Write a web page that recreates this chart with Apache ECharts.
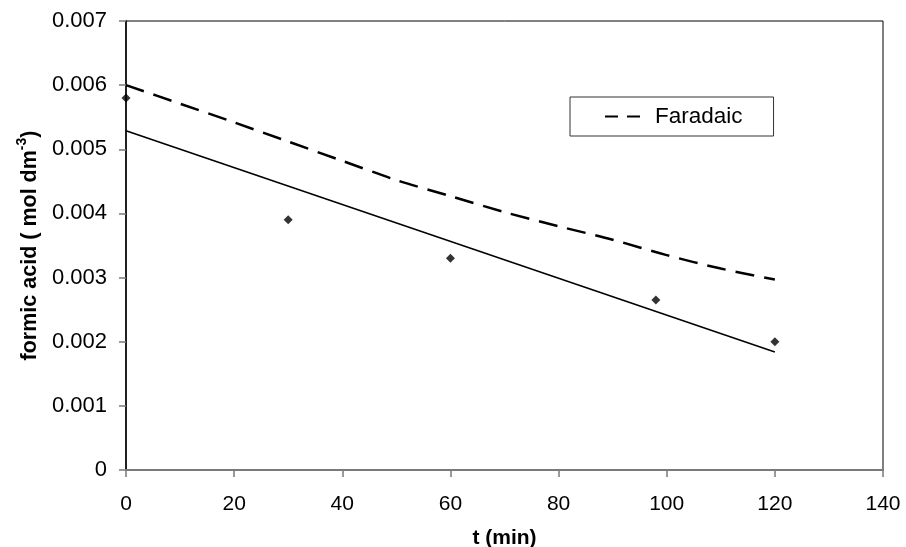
<!DOCTYPE html>
<html>
<head>
<meta charset="utf-8">
<script src="https://cdn.jsdelivr.net/npm/echarts@6/dist/echarts.min.js"></script>
<style>
  html, body { margin: 0; padding: 0; background: #fff; }
  #chart { width: 906px; height: 547px; }
</style>
</head>
<body>
<div id="chart"></div>
<script>
// Measured formic acid concentration over electrolysis time
const timeMin = [0, 30, 60, 98, 120];
const formicAcid = [0.0058, 0.0039, 0.0033, 0.00265, 0.0020];

// Straight trend line through the measurements (end points)
const trendTime = [0, 120];
const trendValue = [0.00529, 0.00184];

// Concentration predicted from the charge passed (Faradaic)
const faradaicTime = [0, 10, 20, 30, 40, 50, 60, 70, 80, 90, 100, 110, 120];
const faradaicValue = [0.00600, 0.00571, 0.00542, 0.00512, 0.00482, 0.00452, 0.00427,
                       0.00402, 0.00380, 0.00359, 0.00335, 0.00314, 0.00297];

const xTicks = { min: 0, max: 140, step: 20 };
const yTicks = { min: 0, max: 0.007, step: 0.001 };

const pairs = (xs, ys) => xs.map((x, i) => [x, ys[i]]);
const FONT = '"Liberation Sans", Arial, Helvetica, sans-serif';

const chart = echarts.init(document.getElementById('chart'), null, { renderer: 'canvas' });

chart.setOption({
  backgroundColor: '#ffffff',
  animation: false,
  grid: {
    left: 126, right: 23, top: 21, bottom: 77,
    outerBoundsMode: 'none',
    containLabel: false,
    show: true, borderColor: '#000', borderWidth: 1, backgroundColor: 'transparent'
  },
  legend: {
    left: 570, top: 97,
    orient: 'horizontal',
    data: [{ name: 'Faradaic', icon: 'path://M0,0H13V2H0Z M22,0H35V2H22Z' }],
    borderColor: '#333', borderWidth: 1,
    padding: [8, 31, 8, 35],
    itemWidth: 35, itemHeight: 2.5,
    itemStyle: { color: '#000', borderWidth: 0 },
    textStyle: { fontFamily: FONT, fontSize: 22.5, color: '#000', padding: [0, 0, 0, 10] }
  },
  xAxis: {
    type: 'value',
    min: xTicks.min, max: xTicks.max, interval: xTicks.step,
    z: 5,
    name: 't (min)',
    nameLocation: 'middle',
    nameGap: 58,
    nameTextStyle: { fontFamily: FONT, fontSize: 21, fontWeight: 'bold', color: '#000' },
    axisLine: { show: true, lineStyle: { color: '#7a7a7a', width: 2 } },
    axisTick: { show: true, length: 7, lineStyle: { color: '#7a7a7a', width: 1.5 } },
    axisLabel: { margin: 24, fontFamily: FONT, fontSize: 21, color: '#000' },
    splitLine: { show: false }
  },
  yAxis: {
    type: 'value',
    min: yTicks.min, max: yTicks.max, interval: yTicks.step,
    z: 5,
    name: 'formic acid ( mol dm{sup|-3})',
    nameLocation: 'middle',
    nameGap: 80,
    nameRotate: 90,
    nameTextStyle: {
      fontFamily: FONT, fontSize: 21.5, fontWeight: 'bold', color: '#000',
      rich: {
        sup: { fontFamily: FONT, fontSize: 14, fontWeight: 'bold', color: '#000', padding: [0, 0, 16, 0] }
      }
    },
    axisLine: { show: true, lineStyle: { color: '#000', width: 1.5 } },
    axisTick: { show: true, length: 7, lineStyle: { color: '#7a7a7a', width: 1.5 } },
    axisLabel: {
      margin: 19, fontFamily: FONT, fontSize: 22, color: '#000',
      formatter: v => (Math.abs(v) < 1e-12 ? '0' : v.toFixed(3))
    },
    splitLine: { show: false }
  },
  series: [
    {
      name: 'Faradaic',
      type: 'line',
      data: pairs(faradaicTime, faradaicValue),
      symbol: 'none',
      smooth: 0.3,
      lineStyle: { color: '#000', width: 2.5, type: [19, 10] },
      z: 3
    },
    {
      name: 'trend',
      type: 'line',
      data: pairs(trendTime, trendValue),
      symbol: 'none',
      lineStyle: { color: '#000', width: 1.6 },
      z: 3
    },
    {
      name: 'measured',
      type: 'scatter',
      data: pairs(timeMin, formicAcid),
      symbol: 'diamond',
      symbolSize: 9,
      itemStyle: { color: '#000' },
      z: 4
    }
  ]
});
</script>
</body>
</html>
